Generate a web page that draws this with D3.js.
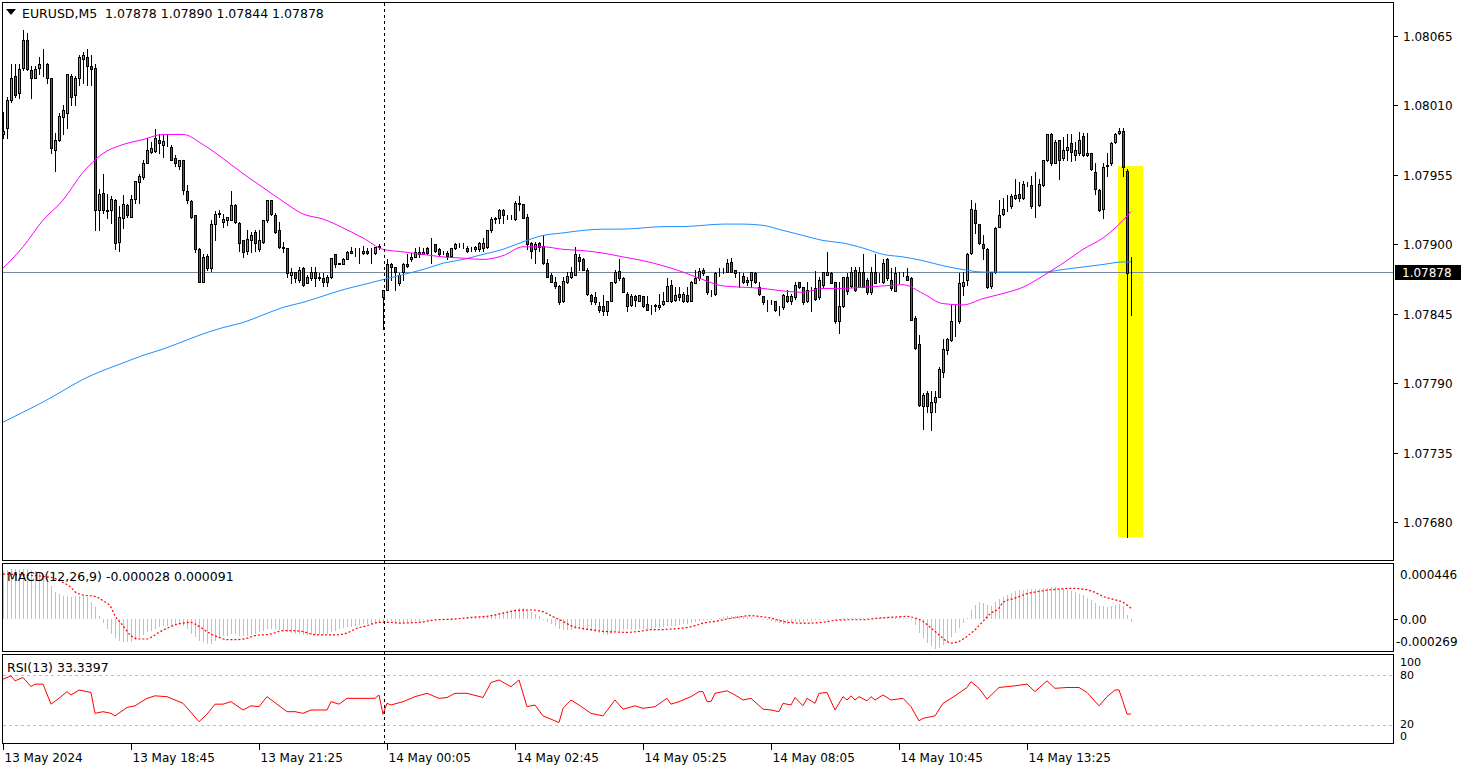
<!DOCTYPE html>
<html><head><meta charset="utf-8">
<script src="https://cdn.jsdelivr.net/npm/d3@7"></script>
<style>
body{margin:0;background:#fff;}
svg{display:block;}
text{font-family:"DejaVu Sans",sans-serif;}
</style>
</head><body>
<svg id="c" width="1466" height="771"></svg>
<script>
// ---------------- DATA ----------------
const symbolTitle = "EURUSD,M5  1.07878 1.07890 1.07844 1.07878";
const opens = [
1.07987,1.07992,1.08014,1.08033,1.08020,1.08040,1.08062,1.08038,1.08032,1.08040,
1.08043,1.08043,1.08032,1.07975,1.07983,1.08001,1.08004,1.08033,1.08018,1.08032,
1.08047,1.08048,1.08041,1.08040,1.07927,1.07941,1.07927,1.07927,1.07935,1.07902,
1.07921,1.07931,1.07922,1.07936,1.07949,1.07953,1.07964,1.07973,1.07974,1.07983,
1.07979,1.07981,1.07977,1.07968,1.07962,1.07967,1.07942,1.07934,1.07923,1.07896,
1.07870,1.07891,1.07881,1.07916,1.07924,1.07918,1.07919,1.07919,1.07931,1.07917,
1.07903,1.07895,1.07903,1.07910,1.07896,1.07902,1.07919,1.07935,1.07923,1.07911,
1.07898,1.07897,1.07876,1.07878,1.07872,1.07881,1.07869,1.07873,1.07878,1.07874,
1.07873,1.07870,1.07874,1.07892,1.07885,1.07884,1.07888,1.07895,1.07895,1.07895,
1.07893,1.07895,1.07894,1.07893,1.07898,1.07858,1.07864,1.07884,1.07882,1.07869,
1.07878,1.07884,1.07888,1.07890,1.07894,1.07892,1.07897,1.07900,1.07900,1.07896,
1.07894,1.07893,1.07891,1.07897,1.07899,1.07899,1.07897,1.07896,1.07896,1.07896,
1.07897,1.07898,1.07911,1.07920,1.07921,1.07927,1.07922,1.07922,1.07920,1.07933,
1.07932,1.07922,1.07901,1.07896,1.07901,1.07899,1.07885,1.07876,1.07870,1.07867,
1.07855,1.07870,1.07874,1.07876,1.07890,1.07888,1.07880,1.07860,1.07858,1.07851,
1.07851,1.07847,1.07855,1.07870,1.07879,1.07873,1.07861,1.07852,1.07859,1.07855,
1.07859,1.07853,1.07851,1.07851,1.07850,1.07853,1.07855,1.07868,1.07856,1.07861,
1.07855,1.07860,1.07855,1.07869,1.07873,1.07880,1.07875,1.07862,1.07861,1.07878,
1.07878,1.07878,1.07886,1.07880,1.07877,1.07875,1.07870,1.07872,1.07877,1.07866,
1.07859,1.07855,1.07855,1.07855,1.07849,1.07850,1.07859,1.07855,1.07858,1.07870,
1.07866,1.07855,1.07864,1.07865,1.07858,1.07868,1.07876,1.07877,1.07870,1.07839,
1.07851,1.07874,1.07867,1.07880,1.07866,1.07878,1.07872,1.07862,1.07878,1.07870,
1.07870,1.07888,1.07872,1.07863,1.07876,1.07876,1.07875,1.07873,1.07842,1.07821,
1.07772,1.07782,1.07767,1.07775,1.07779,1.07799,1.07816,1.07824,1.07839,1.07839,
1.07867,1.07872,1.07893,1.07927,1.07916,1.07900,1.07896,1.07867,1.07878,1.07914,
1.07924,1.07929,1.07930,1.07937,1.07940,1.07937,1.07948,1.07947,1.07931,1.07931,
1.07947,1.07967,1.07987,1.07964,1.07983,1.07968,1.07975,1.07980,1.07971,1.07972,
1.07986,1.07971,1.07972,1.07957,1.07943,1.07928,1.07962,1.07964,1.07981,1.07988,
1.07990,1.07958,1.07878];
const highs = [
1.08005,1.08017,1.08043,1.08043,1.08043,1.08070,1.08067,1.08041,1.08041,1.08048,
1.08055,1.08044,1.08032,1.07988,1.08004,1.08010,1.08035,1.08035,1.08033,1.08050,
1.08052,1.08055,1.08050,1.08043,1.07944,1.07956,1.07940,1.07938,1.07936,1.07930,
1.07939,1.07932,1.07939,1.07950,1.07956,1.07967,1.07984,1.07981,1.07991,1.07987,
1.07987,1.07987,1.07979,1.07971,1.07967,1.07967,1.07947,1.07935,1.07923,1.07897,
1.07892,1.07892,1.07919,1.07926,1.07927,1.07924,1.07922,1.07942,1.07932,1.07918,
1.07903,1.07911,1.07910,1.07911,1.07911,1.07919,1.07935,1.07935,1.07925,1.07918,
1.07902,1.07897,1.07881,1.07878,1.07882,1.07882,1.07876,1.07882,1.07882,1.07877,
1.07877,1.07876,1.07889,1.07892,1.07885,1.07889,1.07895,1.07898,1.07897,1.07897,
1.07899,1.07897,1.07897,1.07898,1.07900,1.07864,1.07888,1.07885,1.07882,1.07877,
1.07885,1.07892,1.07893,1.07897,1.07898,1.07897,1.07898,1.07905,1.07900,1.07897,
1.07895,1.07895,1.07897,1.07901,1.07901,1.07901,1.07899,1.07898,1.07899,1.07902,
1.07905,1.07911,1.07922,1.07922,1.07928,1.07928,1.07923,1.07923,1.07934,1.07938,
1.07932,1.07924,1.07902,1.07902,1.07902,1.07907,1.07888,1.07877,1.07874,1.07868,
1.07874,1.07878,1.07882,1.07898,1.07892,1.07889,1.07881,1.07861,1.07862,1.07854,
1.07860,1.07855,1.07870,1.07880,1.07888,1.07874,1.07862,1.07861,1.07860,1.07860,
1.07859,1.07859,1.07852,1.07853,1.07861,1.07862,1.07873,1.07872,1.07866,1.07866,
1.07862,1.07866,1.07871,1.07880,1.07881,1.07881,1.07875,1.07864,1.07878,1.07881,
1.07881,1.07888,1.07889,1.07880,1.07878,1.07877,1.07874,1.07878,1.07878,1.07870,
1.07859,1.07856,1.07856,1.07855,1.07851,1.07861,1.07864,1.07861,1.07870,1.07870,
1.07866,1.07870,1.07866,1.07879,1.07874,1.07878,1.07894,1.07878,1.07870,1.07870,
1.07874,1.07877,1.07882,1.07882,1.07882,1.07892,1.07873,1.07882,1.07892,1.07877,
1.07888,1.07889,1.07881,1.07882,1.07878,1.07878,1.07881,1.07874,1.07843,1.07828,
1.07782,1.07784,1.07784,1.07784,1.07803,1.07825,1.07826,1.07852,1.07852,1.07877,
1.07878,1.07893,1.07935,1.07933,1.07916,1.07907,1.07897,1.07878,1.07914,1.07935,
1.07937,1.07939,1.07940,1.07952,1.07949,1.07950,1.07949,1.07954,1.07957,1.07952,
1.07967,1.07987,1.07988,1.07983,1.07983,1.07985,1.07987,1.07987,1.07981,1.07989,
1.07988,1.07988,1.07972,1.07964,1.07944,1.07964,1.07972,1.07981,1.07988,1.07992,
1.07992,1.07960,1.07890];
const lows = [
1.07984,1.07984,1.08013,1.08017,1.08016,1.08038,1.08038,1.08016,1.08032,1.08035,
1.08033,1.08028,1.07972,1.07958,1.07982,1.07987,1.07992,1.08010,1.08010,1.08026,
1.08028,1.08026,1.08026,1.07911,1.07911,1.07925,1.07921,1.07917,1.07896,1.07895,
1.07913,1.07922,1.07922,1.07933,1.07933,1.07952,1.07964,1.07972,1.07973,1.07972,
1.07969,1.07978,1.07967,1.07962,1.07960,1.07940,1.07933,1.07921,1.07894,1.07870,
1.07870,1.07880,1.07879,1.07903,1.07922,1.07914,1.07915,1.07919,1.07917,1.07895,
1.07890,1.07892,1.07894,1.07895,1.07895,1.07901,1.07918,1.07923,1.07909,1.07897,
1.07894,1.07874,1.07869,1.07870,1.07870,1.07867,1.07869,1.07872,1.07867,1.07872,
1.07867,1.07867,1.07873,1.07882,1.07884,1.07884,1.07888,1.07893,1.07891,1.07885,
1.07892,1.07892,1.07885,1.07892,1.07896,1.07833,1.07864,1.07872,1.07864,1.07868,
1.07872,1.07882,1.07887,1.07890,1.07890,1.07892,1.07892,1.07885,1.07894,1.07891,
1.07892,1.07888,1.07890,1.07896,1.07898,1.07897,1.07894,1.07895,1.07895,1.07895,
1.07895,1.07897,1.07910,1.07917,1.07917,1.07917,1.07920,1.07920,1.07919,1.07927,
1.07921,1.07896,1.07889,1.07885,1.07895,1.07884,1.07874,1.07870,1.07865,1.07853,
1.07854,1.07869,1.07873,1.07876,1.07880,1.07880,1.07860,1.07853,1.07853,1.07846,
1.07844,1.07844,1.07855,1.07869,1.07872,1.07862,1.07847,1.07851,1.07851,1.07855,
1.07850,1.07848,1.07845,1.07847,1.07849,1.07852,1.07855,1.07854,1.07855,1.07856,
1.07854,1.07854,1.07855,1.07869,1.07872,1.07876,1.07861,1.07859,1.07860,1.07875,
1.07877,1.07878,1.07878,1.07874,1.07866,1.07869,1.07868,1.07866,1.07869,1.07860,
1.07853,1.07847,1.07853,1.07847,1.07844,1.07849,1.07854,1.07853,1.07857,1.07865,
1.07853,1.07854,1.07847,1.07856,1.07857,1.07866,1.07876,1.07869,1.07838,1.07830,
1.07850,1.07861,1.07866,1.07863,1.07866,1.07866,1.07861,1.07861,1.07869,1.07870,
1.07869,1.07872,1.07864,1.07863,1.07869,1.07875,1.07872,1.07840,1.07817,1.07772,
1.07754,1.07767,1.07753,1.07767,1.07779,1.07795,1.07813,1.07823,1.07827,1.07838,
1.07860,1.07868,1.07892,1.07909,1.07900,1.07888,1.07865,1.07865,1.07877,1.07914,
1.07923,1.07926,1.07929,1.07936,1.07934,1.07936,1.07946,1.07929,1.07922,1.07930,
1.07946,1.07966,1.07963,1.07964,1.07952,1.07967,1.07967,1.07966,1.07967,1.07971,
1.07970,1.07970,1.07959,1.07940,1.07926,1.07921,1.07954,1.07963,1.07980,1.07987,
1.07954,1.07668,1.07844];
const closes = [
1.07990,1.08014,1.08032,1.08018,1.08039,1.08062,1.08039,1.08032,1.08039,1.08043,
1.08043,1.08032,1.07976,1.07983,1.08002,1.08006,1.08035,1.08017,1.08032,1.08048,
1.08050,1.08041,1.08039,1.07927,1.07940,1.07927,1.07926,1.07936,1.07901,1.07922,
1.07932,1.07923,1.07936,1.07950,1.07954,1.07964,1.07975,1.07976,1.07984,1.07980,
1.07982,1.07981,1.07967,1.07964,1.07967,1.07943,1.07935,1.07922,1.07896,1.07870,
1.07890,1.07881,1.07916,1.07924,1.07925,1.07920,1.07922,1.07931,1.07918,1.07901,
1.07894,1.07904,1.07907,1.07901,1.07903,1.07919,1.07935,1.07924,1.07910,1.07898,
1.07897,1.07877,1.07878,1.07873,1.07880,1.07868,1.07874,1.07878,1.07873,1.07873,
1.07870,1.07874,1.07889,1.07884,1.07884,1.07888,1.07894,1.07893,1.07895,1.07895,
1.07895,1.07893,1.07894,1.07898,1.07899,1.07864,1.07884,1.07882,1.07878,1.07876,
1.07884,1.07883,1.07890,1.07894,1.07892,1.07894,1.07893,1.07900,1.07895,1.07892,
1.07894,1.07891,1.07897,1.07900,1.07899,1.07899,1.07895,1.07896,1.07898,1.07901,
1.07901,1.07911,1.07920,1.07921,1.07927,1.07923,1.07922,1.07922,1.07933,1.07932,
1.07921,1.07900,1.07895,1.07900,1.07898,1.07885,1.07874,1.07870,1.07867,1.07854,
1.07871,1.07875,1.07878,1.07892,1.07887,1.07880,1.07861,1.07855,1.07854,1.07848,
1.07847,1.07855,1.07870,1.07878,1.07873,1.07862,1.07851,1.07859,1.07856,1.07860,
1.07851,1.07848,1.07851,1.07852,1.07852,1.07855,1.07867,1.07855,1.07860,1.07858,
1.07861,1.07855,1.07870,1.07873,1.07879,1.07877,1.07862,1.07862,1.07877,1.07878,
1.07878,1.07885,1.07878,1.07877,1.07877,1.07870,1.07872,1.07878,1.07870,1.07861,
1.07854,1.07855,1.07855,1.07848,1.07849,1.07860,1.07855,1.07859,1.07868,1.07866,
1.07854,1.07864,1.07864,1.07857,1.07872,1.07878,1.07878,1.07869,1.07839,1.07851,
1.07874,1.07863,1.07878,1.07864,1.07878,1.07866,1.07862,1.07878,1.07869,1.07870,
1.07885,1.07873,1.07865,1.07877,1.07876,1.07876,1.07872,1.07840,1.07818,1.07773,
1.07781,1.07772,1.07775,1.07779,1.07801,1.07817,1.07825,1.07839,1.07839,1.07869,
1.07870,1.07892,1.07928,1.07917,1.07901,1.07897,1.07866,1.07878,1.07913,1.07923,
1.07928,1.07929,1.07938,1.07939,1.07937,1.07948,1.07948,1.07930,1.07931,1.07948,
1.07967,1.07987,1.07964,1.07981,1.07967,1.07975,1.07977,1.07973,1.07975,1.07983,
1.07971,1.07972,1.07960,1.07944,1.07927,1.07961,1.07963,1.07980,1.07987,1.07990,
1.07961,1.07877,1.07878];

const maIdx = [0,5,10,15,20,25,30,35,40,45,50,55,60,65,70,75,80,85,90,95,100,105,110,115,120,125,130,135,140,145,150,155,160,165,170,175,180,185,190,195,200,205,210,215,220,225,230,235,240,245,250,255,260,265,270,275,280,282];
const maFast = [1.07881,1.07898,1.07919,1.07935,1.07957,1.07972,1.07979,1.07983,1.07987,1.07987,1.07979,1.07968,1.07956,1.07945,1.07934,1.07924,1.07920,1.07913,1.07905,1.07896,1.07894,1.07892,1.07890,1.07889,1.07888,1.07891,1.07898,1.07898,1.07896,1.07895,1.07893,1.07890,1.07887,1.07883,1.07878,1.07872,1.07867,1.07866,1.07865,1.07863,1.07862,1.07865,1.07865,1.07866,1.07867,1.07868,1.07861,1.07853,1.07852,1.07857,1.07861,1.07866,1.07875,1.07885,1.07896,1.07905,1.07919,1.07926];
const maSlow = [1.07759,1.07767,1.07775,1.07784,1.07793,1.07800,1.07806,1.07812,1.07817,1.07823,1.07829,1.07834,1.07838,1.07844,1.07850,1.07854,1.07859,1.07864,1.07868,1.07872,1.07876,1.07880,1.07885,1.07888,1.07892,1.07896,1.07902,1.07907,1.07909,1.07911,1.07912,1.07912,1.07913,1.07914,1.07914,1.07915,1.07916,1.07916,1.07915,1.07911,1.07907,1.07903,1.07901,1.07897,1.07892,1.07890,1.07887,1.07883,1.07880,1.07878,1.07878,1.07878,1.07878,1.07880,1.07882,1.07884,1.07886,1.07886];

// MACD(12,26,9) main (histogram), one value per bar
const macdMain = [
0.000406,0.000414,0.000420,0.000420,0.000420,0.000420,0.000420,0.000414,0.000406,0.000398,
0.000378,0.000350,0.000280,0.000230,0.000210,0.000196,0.000190,0.000188,0.000190,0.000196,
0.000196,0.000182,0.000146,0.000098,0.000028,-0.000036,-0.000084,-0.000126,-0.000162,-0.000182,
-0.000190,-0.000196,-0.000190,-0.000174,-0.000154,-0.000134,-0.000112,-0.000098,-0.000084,-0.000070,
-0.000062,-0.000056,-0.000050,-0.000042,-0.000042,-0.000056,-0.000084,-0.000126,-0.000154,-0.000182,
-0.000196,-0.000210,-0.000210,-0.000182,-0.000162,-0.000146,-0.000140,-0.000126,-0.000126,-0.000140,
-0.000146,-0.000140,-0.000134,-0.000126,-0.000112,-0.000098,-0.000084,-0.000084,-0.000084,-0.000090,
-0.000098,-0.000112,-0.000118,-0.000123,-0.000126,-0.000134,-0.000134,-0.000134,-0.000134,-0.000134,
-0.000134,-0.000126,-0.000112,-0.000098,-0.000084,-0.000078,-0.000070,-0.000064,-0.000056,-0.000050,
-0.000045,-0.000042,-0.000039,-0.000034,-0.000028,-0.000022,-0.000017,-0.000014,-0.000022,-0.000028,
-0.000034,-0.000028,-0.000022,-0.000017,-0.000014,-0.000011,-0.000008,-0.000006,0.000000,0.000000,
0.000003,0.000003,0.000006,0.000006,0.000008,0.000008,0.000011,0.000011,0.000014,0.000017,
0.000022,0.000028,0.000034,0.000039,0.000048,0.000056,0.000062,0.000070,0.000084,0.000090,
0.000090,0.000070,0.000056,0.000042,0.000028,-0.000006,-0.000022,-0.000040,-0.000060,-0.000080,
-0.000090,-0.000095,-0.000090,-0.000088,-0.000084,-0.000090,-0.000090,-0.000104,-0.000112,-0.000118,
-0.000123,-0.000132,-0.000123,-0.000112,-0.000098,-0.000090,-0.000084,-0.000090,-0.000090,-0.000084,
-0.000084,-0.000084,-0.000084,-0.000078,-0.000076,-0.000070,-0.000062,-0.000062,-0.000056,-0.000050,
-0.000045,-0.000039,-0.000034,-0.000025,-0.000020,-0.000011,-0.000006,-0.000006,0.000000,0.000008,
0.000014,0.000022,0.000028,0.000028,0.000028,0.000022,0.000017,0.000008,0.000003,0.000000,
-0.000006,-0.000011,-0.000020,-0.000028,-0.000034,-0.000039,-0.000039,-0.000034,-0.000028,-0.000028,
-0.000022,-0.000020,-0.000014,-0.000011,-0.000006,-0.000006,-0.000006,0.000000,-0.000011,-0.000006,
0.000006,0.000006,0.000008,0.000006,0.000008,0.000008,0.000006,0.000011,0.000008,0.000011,
0.000017,0.000014,0.000011,0.000014,0.000014,0.000011,0.000008,-0.000006,-0.000048,-0.000118,
-0.000160,-0.000202,-0.000230,-0.000252,-0.000244,-0.000216,-0.000188,-0.000151,-0.000118,-0.000076,
-0.000034,0.000008,0.000078,0.000120,0.000140,0.000134,0.000120,0.000112,0.000140,0.000168,
0.000185,0.000199,0.000218,0.000232,0.000241,0.000246,0.000252,0.000252,0.000252,0.000252,
0.000258,0.000263,0.000266,0.000266,0.000260,0.000255,0.000246,0.000232,0.000224,0.000213,
0.000199,0.000176,0.000157,0.000134,0.000112,0.000106,0.000101,0.000112,0.000120,0.000129,
0.000112,0.000036,-0.000028];

// MACD signal line, read at these bars
const signalIdx = [0,12,15,17,18,20,23,25,27,28,30,32,34,36,37,39,41,43,45,47,48,50,52,54,56,58,61,63,67,70,72,75,77,79,83,86,88,91,94,97,99,104,108,113,117,122,125,128,132,135,137,140,142,145,148,150,153,156,159,162,164,167,170,173,175,178,181,184,187,189,192,195,199,202,205,208,212,215,219,223,226,228,230,232,234,236,237,239,241,243,245,247,249,250,253,256,259,262,264,267,270,273,275,278,280,282];
const signalVal = [0.000378,0.000350,0.000308,0.000266,0.000230,0.000202,0.000190,0.000154,0.000098,0.000028,-0.000056,-0.000140,-0.000168,-0.000168,-0.000154,-0.000112,-0.000078,-0.000050,-0.000034,-0.000028,-0.000042,-0.000084,-0.000126,-0.000154,-0.000174,-0.000174,-0.000162,-0.000140,-0.000126,-0.000098,-0.000098,-0.000106,-0.000126,-0.000134,-0.000134,-0.000118,-0.000084,-0.000056,-0.000028,-0.000028,-0.000034,-0.000028,-0.000008,0.000000,0.000014,0.000028,0.000050,0.000070,0.000076,0.000062,0.000028,-0.000020,-0.000056,-0.000081,-0.000095,-0.000104,-0.000109,-0.000112,-0.000104,-0.000090,-0.000090,-0.000084,-0.000076,-0.000056,-0.000034,-0.000020,0.000000,0.000017,0.000028,0.000022,0.000008,-0.000020,-0.000034,-0.000034,-0.000028,-0.000011,-0.000006,-0.000006,0.000008,0.000017,0.000022,0.000008,-0.000020,-0.000076,-0.000132,-0.000188,-0.000202,-0.000188,-0.000146,-0.000090,-0.000020,0.000050,0.000092,0.000140,0.000176,0.000213,0.000232,0.000246,0.000252,0.000258,0.000252,0.000224,0.000190,0.000162,0.000140,0.000091];

// RSI(13), read at these bars
const rsiIdx = [0,2,3,5,7,8,10,12,14,16,17,19,22,23,25,27,28,31,33,36,38,41,45,49,51,53,55,57,60,62,64,66,71,73,75,77,81,82,84,86,93,94,95,96,97,100,103,106,109,111,113,116,120,122,124,127,129,131,133,135,139,140,142,144,147,150,153,155,158,160,163,166,167,169,172,174,175,176,177,178,181,183,185,187,190,192,194,195,197,198,200,201,203,204,206,208,210,211,212,213,214,216,217,218,220,222,225,227,229,230,233,235,238,241,242,244,246,249,253,256,258,261,263,266,269,271,274,276,278,279,280,281,282];
const rsiVal = [75,79,73,77,66,69,69,45,52,60,56,62,59,34,36,34,31,41,43,52,55,54,46,24,33,45,45,48,38,43,42,54,36,36,34,38,38,48,45,52,52,56,33,46,44,48,54,58,52,53,58,58,53,71,74,66,74,42,44,31,23,40,50,44,34,31,50,39,43,40,42,52,45,48,54,60,60,48,48,58,61,56,50,52,39,38,36,46,44,53,43,52,46,58,59,38,54,50,55,50,54,49,54,50,56,50,52,42,25,28,31,46,55,65,72,64,51,65,67,69,60,73,64,65,65,59,43,54,62,62,48,33,33.34];

// axes
const priceTicks = [1.08065,1.08010,1.07955,1.07900,1.07845,1.07790,1.07735,1.07680];
const lastPrice = 1.07878;
const macdTicks = [0.000446,0,-0.000269];
const macdTickLabels = ["0.000446","0.00","-0.000269"];
const rsiLevels = [80,20];
const rsiTickLabels = ["100","80","20","0"];
const timeTickIdx = [0,32,64,96,128,160,192,224,256];
const timeTickLabels = ["13 May 2024","13 May 18:45","13 May 21:25","14 May 00:05","14 May 02:45","14 May 05:25","14 May 08:05","14 May 10:45","14 May 13:25"];
const separatorIdx = 95;            // 14 May 00:00
const highlightIdx = [279,285];     // yellow rectangle, bars
const highlightPrice = [1.07668,1.07962];
const macdTitle = "MACD(12,26,9) -0.000028 0.000091";
const rsiTitle = "RSI(13) 33.3397";

// ---------------- DRAW ----------------
const svg = d3.select("#c");
svg.append("rect").attr("width",1466).attr("height",771).attr("fill","#fff");

const x = d3.scaleLinear().domain([0,282]).range([3,1131]);
const y = d3.scaleLinear().domain([1.07680,1.08065]).range([522,36]);
const ym = d3.scaleLinear().domain([-0.000269,0.000446]).range([651,566]);
const yr = d3.scaleLinear().domain([0,100]).range([741.7,658.3]);
const px = i => Math.round(x(i)) + 0.5;

const defs = svg.append("defs");
defs.append("clipPath").attr("id","cpMain").append("rect").attr("x",3).attr("y",3).attr("width",1390).attr("height",557);
defs.append("clipPath").attr("id","cpMacd").append("rect").attr("x",3).attr("y",564).attr("width",1390).attr("height",87);
defs.append("clipPath").attr("id","cpRsi").append("rect").attr("x",3).attr("y",655).attr("width",1390).attr("height",88);

// main panel
const gm = svg.append("g").attr("clip-path","url(#cpMain)");
gm.append("rect")
  .attr("x",x(highlightIdx[0])-1).attr("width",x(highlightIdx[1])-x(highlightIdx[0])+1)
  .attr("y",y(highlightPrice[1])).attr("height",y(highlightPrice[0])-y(highlightPrice[1]))
  .attr("fill","#FFFF00");

gm.append("line").attr("x1",3).attr("x2",1393)
  .attr("y1",Math.round(y(lastPrice))+0.5).attr("y2",Math.round(y(lastPrice))+0.5)
  .attr("stroke","#778899").attr("stroke-width",1);

const bars = closes.map((c,i)=>({i,o:opens[i],h:highs[i],l:lows[i],c}));
const cg = gm.append("g").attr("shape-rendering","crispEdges");
cg.selectAll("line.w").data(bars).join("line").attr("class","w")
  .attr("x1",d=>px(d.i)).attr("x2",d=>px(d.i))
  .attr("y1",d=>Math.round(y(d.h))).attr("y2",d=>Math.round(y(d.l))+1)
  .attr("stroke","#000");
cg.selectAll("rect.b").data(bars).join("rect").attr("class","b")
  .attr("x",d=>px(d.i)-1).attr("width",2)
  .attr("y",d=>Math.round(y(Math.max(d.o,d.c)))+0.5)
  .attr("height",d=>Math.max(0,Math.round(y(Math.min(d.o,d.c)))-Math.round(y(Math.max(d.o,d.c)))))
  .attr("fill",d=>d.c>=d.o?"#32CD32":"#E3201C")
  .attr("stroke","#000").attr("stroke-width",1);

const maLine = vals => d3.line().x((d,k)=>x(maIdx[k])).y(d=>y(d)).curve(d3.curveMonotoneX)(vals);
gm.append("path").attr("d",maLine(maSlow)).attr("fill","none").attr("stroke","#1E90FF").attr("stroke-width",1);
gm.append("path").attr("d",maLine(maFast)).attr("fill","none").attr("stroke","#FF00FF").attr("stroke-width",1);

// MACD panel
const gd = svg.append("g").attr("clip-path","url(#cpMacd)");
gd.append("g").attr("shape-rendering","crispEdges").selectAll("line").data(macdMain).join("line")
  .attr("x1",(d,i)=>px(i)).attr("x2",(d,i)=>px(i))
  .attr("y1",ym(0)).attr("y2",d=>ym(d))
  .attr("stroke","#C0C0C0");
gd.append("path")
  .attr("d",d3.line().x((d,k)=>x(signalIdx[k])).y(d=>ym(d)).curve(d3.curveMonotoneX)(signalVal))
  .attr("fill","none").attr("stroke","#FF0000").attr("stroke-width",1.2).attr("stroke-dasharray","2,2");

// RSI panel
const gr = svg.append("g").attr("clip-path","url(#cpRsi)");
rsiLevels.forEach(v=>{
  gr.append("line").attr("x1",3).attr("x2",1393).attr("y1",Math.round(yr(v))+0.5).attr("y2",Math.round(yr(v))+0.5)
    .attr("stroke","#C0C0C0").attr("stroke-dasharray","3,3");
});
gr.append("path")
  .attr("d",d3.line().x((d,k)=>x(rsiIdx[k])).y(d=>yr(d))(rsiVal))
  .attr("fill","none").attr("stroke","#FF0000").attr("stroke-width",1);

// separator
svg.append("line").attr("x1",px(separatorIdx)+1).attr("x2",px(separatorIdx)+1).attr("y1",3).attr("y2",743)
  .attr("stroke","#000").attr("stroke-dasharray","3,3").attr("shape-rendering","crispEdges");

// borders
const fr = svg.append("g").attr("fill","none").attr("stroke","#000").attr("shape-rendering","crispEdges");
fr.append("rect").attr("x",2.5).attr("y",2.5).attr("width",1391).attr("height",558);
fr.append("rect").attr("x",2.5).attr("y",563.5).attr("width",1391).attr("height",88);
fr.append("rect").attr("x",2.5).attr("y",654.5).attr("width",1391).attr("height",89);

// right price axis
const ax = svg.append("g");
priceTicks.forEach(p=>{
  const yy = Math.round(y(p))+0.5;
  ax.append("line").attr("x1",1394).attr("x2",1398).attr("y1",yy).attr("y2",yy).attr("stroke","#000");
  ax.append("text").attr("x",1403).attr("y",yy).attr("dy","0.36em").attr("font-size",12).attr("fill","#000").text(p.toFixed(5));
});
const ly = Math.round(y(lastPrice));
ax.append("rect").attr("x",1395).attr("y",ly-7).attr("width",66).attr("height",15).attr("fill","#000");
ax.append("text").attr("x",1402).attr("y",ly+0.5).attr("dy","0.36em").attr("font-size",12).attr("fill","#fff").text(lastPrice.toFixed(5));

// MACD axis
const macdLabelY = [575,620,642];
macdTicks.forEach((v,k)=>{
  if (v===0) ax.append("line").attr("x1",1394).attr("x2",1398).attr("y1",Math.round(ym(v))+0.5).attr("y2",Math.round(ym(v))+0.5).attr("stroke","#000");
  ax.append("text").attr("x",v<0?1396:1400).attr("y",macdLabelY[k]).attr("dy","0.36em").attr("font-size",12).text(macdTickLabels[k]);
});
// RSI axis (labels kept close together as in the original, without overlapping)
const rsiLabelY = [662,675,724,736];
rsiTickLabels.forEach((t,k)=>{
  ax.append("text").attr("x",1400).attr("y",rsiLabelY[k]).attr("dy","0.36em").attr("font-size",11).text(t);
});

// time axis
timeTickIdx.forEach((i,k)=>{
  const xx = px(i);
  ax.append("line").attr("x1",xx).attr("x2",xx).attr("y1",744).attr("y2",750).attr("stroke","#000").attr("shape-rendering","crispEdges");
  ax.append("text").attr("x",xx+1).attr("y",762).attr("font-size",12).text(timeTickLabels[k]);
});

// titles
svg.append("path").attr("d","M6,9 L16,9 L11,15 Z").attr("fill","#000");
svg.append("text").attr("x",22).attr("y",18).attr("font-size",12.5).attr("xml:space","preserve").style("white-space","pre").text(symbolTitle);
svg.append("text").attr("x",7).attr("y",581).attr("font-size",12.5).text(macdTitle);
svg.append("text").attr("x",7).attr("y",672).attr("font-size",12.5).text(rsiTitle);
</script>
</body></html>
